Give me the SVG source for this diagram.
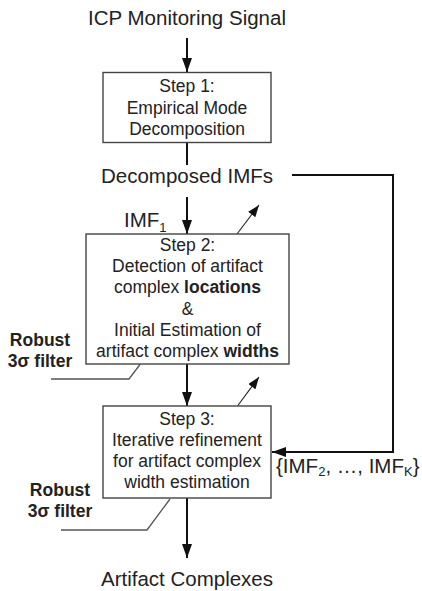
<svg xmlns="http://www.w3.org/2000/svg" width="422" height="591" viewBox="0 0 422 591">
  <style>
    text { font-family: "Liberation Sans", Arial, sans-serif; fill: #222; }
    .big { font-size: 20.5px; }
    .box-text { font-size: 17.5px; text-anchor: middle; }
    .note { font-size: 17.5px; font-weight: bold; text-anchor: middle; }
    .box { fill: #fff; stroke: #444; stroke-width: 1.4; }
    .flow { fill: none; stroke: #111; stroke-width: 2; }
    .thin { fill: none; stroke: #222; stroke-width: 1.1; }
    .callout { fill: none; stroke: #555; stroke-width: 1.3; }
  </style>
  <defs>
    <marker id="head" viewBox="0 0 14 10" refX="14" refY="5" markerWidth="14" markerHeight="10" markerUnits="userSpaceOnUse" orient="auto">
      <path d="M0,0 L14,5 L0,10 z" fill="#111"/>
    </marker>
    <marker id="head-small" viewBox="0 0 12 9" refX="12" refY="4.5" markerWidth="12" markerHeight="9" markerUnits="userSpaceOnUse" orient="auto">
      <path d="M0,0 L12,4.5 L0,9 z" fill="#111"/>
    </marker>
  </defs>

  <g id="connectors">
    <line class="flow" x1="187" y1="38" x2="187" y2="72" marker-end="url(#head)"/>
    <line class="flow" x1="187" y1="143" x2="187" y2="165"/>
    <line class="flow" x1="187" y1="197" x2="187" y2="234" marker-end="url(#head)"/>
    <line class="flow" x1="187" y1="364" x2="187" y2="406" marker-end="url(#head)"/>
    <line class="flow" x1="187" y1="498" x2="187" y2="558" marker-end="url(#head)"/>
    <polyline class="flow" points="292,175 393,175 393,452 272,452" marker-end="url(#head)"/>
    <line class="thin" x1="237" y1="234" x2="259" y2="205" marker-end="url(#head-small)"/>
    <line class="thin" x1="237.5" y1="406" x2="259" y2="377" marker-end="url(#head-small)"/>
    <polyline class="callout" points="51,379 129,379 140,364.5"/>
    <polyline class="callout" points="61,530 147,530 170,499"/>
  </g>

  <g id="input">
    <text class="big" x="187" y="25" text-anchor="middle">ICP Monitoring Signal</text>
  </g>

  <g id="step1">
    <rect class="box" x="103" y="72.5" width="168" height="70"/>
    <text class="box-text" x="187" y="92">Step 1:</text>
    <text class="box-text" x="187" y="113.5">Empirical Mode</text>
    <text class="box-text" x="187" y="135">Decomposition</text>
  </g>

  <g id="imfs">
    <text class="big" x="187" y="182.5" text-anchor="middle">Decomposed IMFs</text>
  </g>

  <g id="imf1-label">
    <text class="big" x="124" y="227">IMF<tspan font-size="13" dy="5">1</tspan></text>
  </g>

  <g id="step2">
    <rect class="box" x="86" y="234" width="203" height="130"/>
    <text class="box-text" x="187.5" y="251">Step 2:</text>
    <text class="box-text" x="187.5" y="272.2">Detection of artifact</text>
    <text class="box-text" x="187.5" y="293.4">complex <tspan font-weight="bold">locations</tspan></text>
    <text class="box-text" x="187.5" y="314.6">&amp;</text>
    <text class="box-text" x="187.5" y="335.8">Initial Estimation of</text>
    <text class="box-text" x="187.5" y="357">artifact complex <tspan font-weight="bold">widths</tspan></text>
  </g>

  <g id="filter1">
    <text class="note" x="40" y="345.5">Robust</text>
    <text class="note" x="40" y="366.5">3σ filter</text>
  </g>

  <g id="step3">
    <rect class="box" x="103" y="406" width="168" height="92"/>
    <text class="box-text" x="187" y="425">Step 3:</text>
    <text class="box-text" x="187" y="445.8">Iterative refinement</text>
    <text class="box-text" x="187" y="466.6">for artifact complex</text>
    <text class="box-text" x="187" y="487.6">width estimation</text>
  </g>

  <g id="imf-rest-label">
    <text class="big" x="276" y="473">{IMF<tspan font-size="13" dy="3">2</tspan><tspan dy="-3">, …, IMF</tspan><tspan font-size="13" dy="3">K</tspan><tspan dy="-3">}</tspan></text>
  </g>

  <g id="filter2">
    <text class="note" x="60" y="496">Robust</text>
    <text class="note" x="60" y="517">3σ filter</text>
  </g>

  <g id="output">
    <text class="big" x="187" y="586" text-anchor="middle">Artifact Complexes</text>
  </g>
</svg>
